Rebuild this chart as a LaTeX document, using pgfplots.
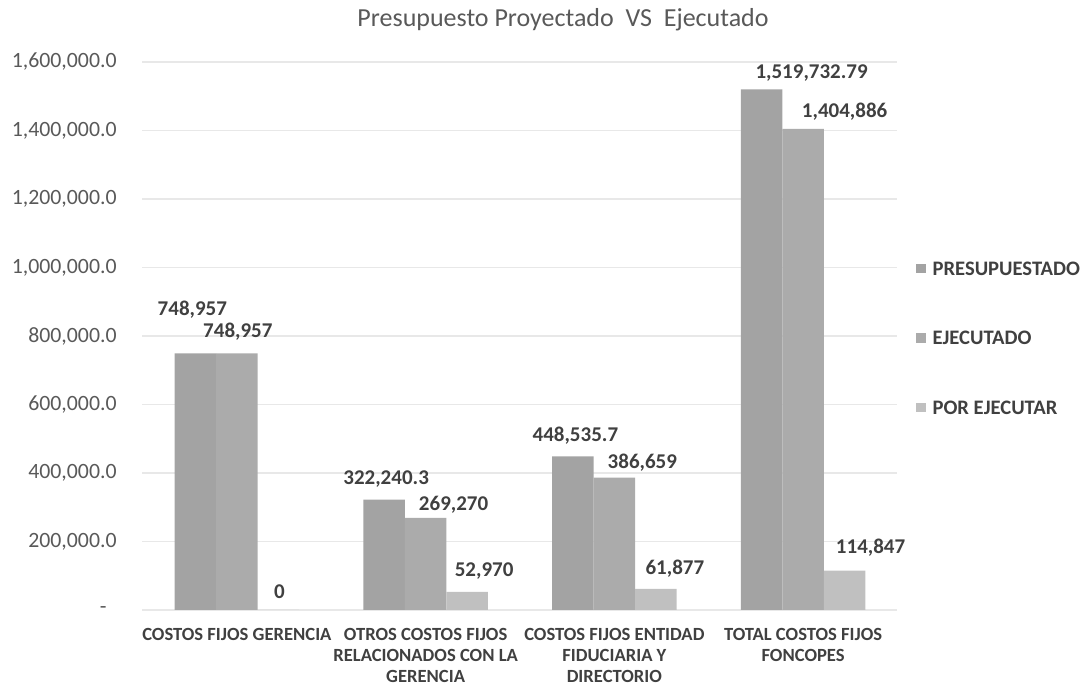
\documentclass[border=0pt]{standalone}
\usepackage{pgfplots}
\pgfplotsset{compat=1.18}
\usepackage{pgfplotstable}
\usepackage{fontspec}
\setmainfont{Carlito}
\definecolor{cPre}{HTML}{A3A3A3}
\definecolor{cEje}{HTML}{ABABAB}
\definecolor{cPor}{HTML}{C0C0C0}
\definecolor{txt}{HTML}{404040}
\definecolor{tickc}{HTML}{595959}

\pgfplotstableread{
x y dx dy lab
0 748957 -1.5 22 748,957
1 322240.3 1 10.5 322,240.3
2 448535.7 1.25 10.5 448,535.7
3 1519732.79 25 8 1,519,732.79
}\presup
\pgfplotstableread{
x y dx dy lab
0 748957 0.5 11 748,957
1 269270 14 6.5 269,270
2 386659 14 7.5 386,659
3 1404886 20.75 8.5 1,404,886
}\ejec
\pgfplotstableread{
x y dx dy lab
0 0 0.5 9 0
1 52970 8.5 10.5 52,970
2 61877 9.5 10 61,877
3 114847 13 11.5 114,847
}\porej

\pgfplotsset{lbl/.style={point meta=explicit symbolic, nodes near coords,
  visualization depends on={\thisrow{dx} \as \dx},
  visualization depends on={\thisrow{dy} \as \dy},
  nodes near coords style={anchor=center, xshift=\dx pt, yshift=\dy pt},
  legend image code/.code={\fill[##1] (0pt,-2.3pt) rectangle (4.6pt,2.3pt);}}}

\begin{document}
\begin{tikzpicture}
\useasboundingbox (0,0) rectangle (544pt,342.5pt);
\begin{axis}[
  at={(71.25pt,37.5pt)}, anchor=south west,
  scale only axis, width=377.5pt, height=274pt,
  xmin=-0.5, xmax=3.5, ymin=0, ymax=1600000,
  clip=false,
  ybar=0pt, bar width=20.75pt,
  axis line style={draw=none},
  major tick length=0pt,
  scaled y ticks=false,
  xtick={0,1,2,3},
  xticklabels={{COSTOS FIJOS GERENCIA},{OTROS COSTOS FIJOS\\RELACIONADOS CON LA\\GERENCIA},{COSTOS FIJOS ENTIDAD\\FIDUCIARIA Y\\DIRECTORIO},{TOTAL COSTOS FIJOS\\FONCOPES}},
  xticklabel style={font=\bfseries\fontsize{9.3}{10.5}\selectfont, text=txt, align=center, inner sep=0pt, anchor=north, yshift=-9pt},
  ytick={0,200000,400000,600000,800000,1000000,1200000,1400000,1600000},
  yticklabels={{-\hspace*{5pt}},{200,000.0},{400,000.0},{600,000.0},{800,000.0},{1,000,000.0},{1,200,000.0},{1,400,000.0},{1,600,000.0}},
  yticklabel style={font=\fontsize{10.9}{12}\selectfont, text=tickc, inner sep=0pt, xshift=-12.75pt},
  ymajorgrids, grid style={color=black!9, line width=0.6pt},
  title={Presupuesto Proyectado\ \ VS\ \ Ejecutado},
  title style={at={(0.557,1.0547)}, anchor=center, font=\fontsize{13}{15}\selectfont, text=tickc, inner sep=0pt},
  every node near coord/.append style={font=\bfseries\fontsize{10.5}{12}\selectfont, text=txt, inner sep=0pt},
  legend style={at={(1.0245,0.4964)}, anchor=west, draw=none, fill=none, inner sep=0pt, row sep=28pt, column sep=3.5pt,
    font=\bfseries\fontsize{10.3}{12}\selectfont, text=txt, nodes={inner sep=0pt, text height=6.7pt, text depth=0pt}},
  legend cell align=left,
]
\addplot[fill=cPre, draw=none, lbl] table[x=x, y=y, meta=lab] {\presup};
\addlegendentry{PRESUPUESTADO}
\addplot[fill=cEje, draw=none, lbl] table[x=x, y=y, meta=lab] {\ejec};
\addlegendentry{EJECUTADO}
\addplot[fill=cPor, draw=none, lbl] table[x=x, y=y, meta=lab] {\porej};
\addlegendentry{POR EJECUTAR}
\end{axis}
\end{tikzpicture}
\end{document}
